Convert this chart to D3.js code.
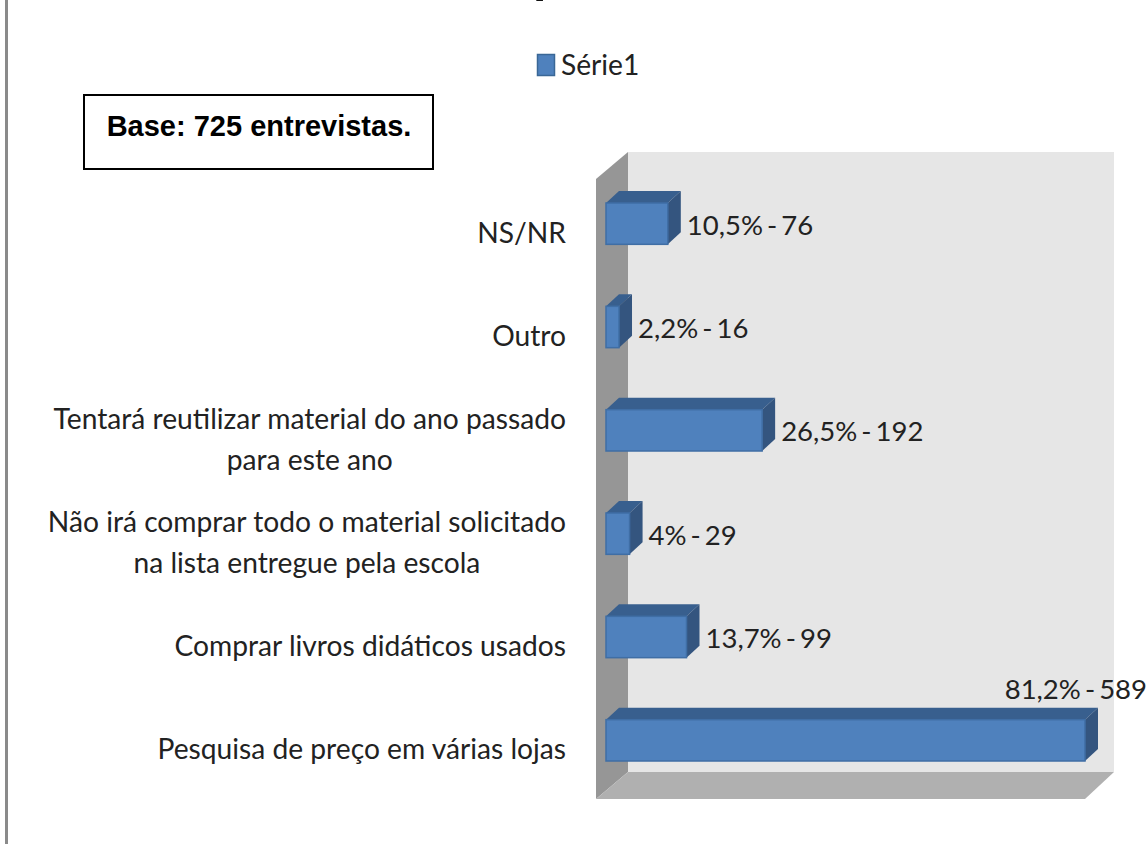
<!doctype html>
<html lang="pt">
  <head>
    <title>Base: 725 entrevistas</title>
    <meta charset="utf-8" />
    <script src="https://cdn.jsdelivr.net/npm/d3@7"></script>
    <style>
      html, body { margin: 0; padding: 0; background: #fff; overflow: hidden; }
      text { font-family: Lato, "Open Sans", sans-serif; fill: #222; }
    </style>
  </head>
  <body>
    <svg id="main" width="1148" height="844"></svg>

    <script>
      // top to bottom, as drawn
      const categories = [
        ['NS/NR'],
        ['Outro'],
        ['Tentará reutilizar material do ano passado', 'para este ano'],
        ['Não irá comprar todo o material solicitado', 'na lista entregue pela escola'],
        ['Comprar livros didáticos usados'],
        ['Pesquisa de preço em várias lojas'],
      ];
      const counts = [76, 16, 192, 29, 99, 589];
      const percents = ['10,5%', '2,2%', '26,5%', '4%', '13,7%', '81,2%'];
      const seriesName = 'Série1';
      const baseNote = 'Base: 725 entrevistas.';

      const chartWidth = 1148;
      const depthX = 32;
      const depthY = 27;
      const barDepthX = 13;
      const barDepthY = 12;
      const fontSize = 28.2;
      const valueFontSize = 27.5;

      const svg = d3.select('#main');

      const x = d3.scaleLinear().domain([0, 589]).range([606, 1085]);
      const y = d3.scaleBand()
        .domain(d3.range(categories.length))
        .range([172, 792])
        .paddingInner(0.6)
        .paddingOuter(0.3);

      const poly = (points, fill, parent = svg) =>
        parent.append('polygon').attr('points', points.map((p) => p.join(',')).join(' ')).style('fill', fill);

      // page edge line and the title, only its descender is left in the picture
      svg.append('rect').attr('x', 5).attr('y', 0).attr('width', 3).attr('height', 844).style('fill', '#8a8a8a');
      svg.append('text').attr('x', 533).attr('y', -8)
        .style('font-size', '54px').style('font-weight', 700).style('fill', '#111').text('p');

      // legend
      svg.append('rect').attr('x', 537.5).attr('y', 54.5).attr('width', 17).attr('height', 21)
        .style('fill', '#4f81bd').style('stroke', '#3a6796').style('stroke-width', 1.5);
      svg.append('text').attr('x', 561).attr('y', 75).style('font-size', fontSize + 'px').text(seriesName);

      // note box
      svg.append('rect').attr('x', 84).attr('y', 95).attr('width', 349).attr('height', 74)
        .style('fill', '#fff').style('stroke', '#000').style('stroke-width', 2);
      svg.append('text').attr('x', 259).attr('y', 136).attr('text-anchor', 'middle')
        .style('font-family', '"Liberation Sans", Arial, sans-serif').style('font-weight', 700)
        .style('font-size', '29px').style('fill', '#000').text(baseNote);

      // 3d box: back wall, side wall, floor
      const wallLeft = 596;
      const wallTop = 152 + depthY;
      const wallBottom = 799;
      const wallRight = 1085;
      poly([[wallLeft + depthX, wallTop - depthY], [wallRight + 29, wallTop - depthY], [wallRight + 29, wallBottom - depthY], [wallLeft + depthX, wallBottom - depthY]], '#e6e6e6');
      poly([[wallLeft, wallTop], [wallLeft + depthX, wallTop - depthY], [wallLeft + depthX, wallBottom - depthY], [wallLeft, wallBottom]], '#969696');
      poly([[wallLeft, wallBottom], [wallLeft + depthX, wallBottom - depthY], [wallRight + 29, wallBottom - depthY], [wallRight, wallBottom]], '#b0b0b0');

      // bars
      const bars = svg.append('g');
      counts.forEach((v, i) => {
        const x0 = x(0);
        const x1 = x(v);
        const y0 = y(i);
        const y1 = y(i) + y.bandwidth();
        poly([[x0, y0], [x0 + barDepthX, y0 - barDepthY], [x1 + barDepthX, y0 - barDepthY], [x1, y0]], '#385f8e', bars);
        poly([[x1, y0], [x1 + barDepthX, y0 - barDepthY], [x1 + barDepthX, y1 - barDepthY], [x1, y1]], '#34557f', bars);
        bars.append('rect').attr('x', x0).attr('y', y0).attr('width', x1 - x0).attr('height', y1 - y0)
          .style('fill', '#4f81bd').style('stroke', '#3f6ea5').style('stroke-width', 1.5);
      });

      // value labels, the long bar gets its label on top since it runs out of room
      const noRoom = (d) => x(d) + 130 > chartWidth;
      svg.append('g').selectAll('text').data(counts).join('text')
        .attr('x', (d) => (noRoom(d) ? chartWidth - 1 : x(d) + 19))
        .attr('y', (d, i) => (noRoom(d) ? y(i) - 21 : y(i) + y.bandwidth() / 2 + 11))
        .attr('text-anchor', (d) => (noRoom(d) ? 'end' : 'start'))
        .style('font-size', valueFontSize + 'px')
        .style('word-spacing', '-3px')
        .text((d, i) => `${percents[i]} - ${d}`);

      // category labels, centred lines in a block that ends at the same right edge
      const labels = svg.append('g');
      categories.forEach((lines, i) => {
        const cy = y(i) + y.bandwidth() / 2 + 9;
        const text = labels.append('text').style('font-size', fontSize + 'px');
        lines.forEach((line, k) => {
          text.append('tspan').attr('y', cy + 10 + (k - (lines.length - 1) / 2) * 41).text(line);
        });
        const spans = text.selectAll('tspan').nodes();
        const w = d3.max(spans, (s) => s.getComputedTextLength());
        spans.forEach((s) => {
          d3.select(s).attr('x', 566 - w / 2).attr('text-anchor', 'middle');
        });
      });
    </script>
  </body>
</html>
